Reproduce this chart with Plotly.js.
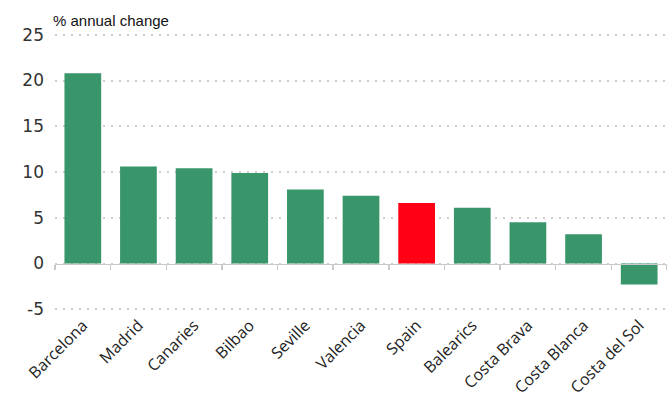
<!DOCTYPE html>
<html><head><meta charset="utf-8">
<script src="https://cdn.plot.ly/plotly-3.0.1.min.js"></script>
<style>html,body{margin:0;padding:0;background:#fff}#c{width:667px;height:417px}</style>
</head><body><div id="c"></div>
<script>
const regions = ["Barcelona","Madrid","Canaries","Bilbao","Seville","Valencia","Spain","Balearics","Costa Brava","Costa Blanca","Costa del Sol"];
const changes = [20.8, 10.6, 10.4, 9.9, 8.1, 7.4, 6.6, 6.1, 4.5, 3.2, -2.3];
const highlight = "Spain";
const yTicks = [-5, 0, 5, 10, 15, 20, 25];

const green = "#39966a", red = "#ff0015";
const yRange = [-5.3, 25.3];
const zeroFrac = (0 - yRange[0]) / (yRange[1] - yRange[0]);

const data = [{
  type: "bar", x: regions, y: changes,
  marker: {color: regions.map(r => r === highlight ? red : green)},
  width: 0.66, hoverinfo: "x+y"
}, {
  type: "scatter", x: regions, y: regions.map(() => null), xaxis: "x2", yaxis: "y",
  showlegend: false, hoverinfo: "skip"
}];

const layout = {
  width: 667, height: 417,
  margin: {l: 55, r: 0, t: 32, b: 105},
  paper_bgcolor: "#fff", plot_bgcolor: "#fff",
  showlegend: false,
  xaxis: {
    type: "category", tickangle: -45, showgrid: false, zeroline: false, showline: false,
    ticks: "", tickfont: {family: "Open Sans, Liberation Sans, sans-serif", size: 16, color: "#222"},
    range: [-0.5, regions.length - 0.5]
  },
  xaxis2: {
    type: "category", overlaying: "x", anchor: "free", position: zeroFrac,
    showline: true, linecolor: "#c9c9c9", linewidth: 1.5,
    ticks: "outside", tickson: "boundaries", ticklen: 5, tickcolor: "#c9c9c9", tickwidth: 1.5,
    showticklabels: false, showgrid: false, zeroline: false,
    range: [-0.5, regions.length - 0.5]
  },
  yaxis: {
    range: yRange, tickvals: yTicks, ticktext: yTicks.map(String),
    showgrid: true, gridcolor: "#cdcdcd", griddash: "2px,6px", gridwidth: 2,
    zeroline: false, showline: false, ticks: "", ticklabelstandoff: 10,
    tickfont: {family: "DejaVu Sans, sans-serif", size: 17, color: "#333"}
  },
  annotations: [{
    text: "% annual change", xref: "paper", yref: "paper", x: -0.006, y: 1.005,
    xanchor: "left", yanchor: "bottom", showarrow: false,
    font: {family: "Liberation Sans, Arial, sans-serif", size: 15, color: "#111"}
  }]
};

Plotly.newPlot("c", data, layout, {staticPlot: true, displayModeBar: false});
</script></body></html>
